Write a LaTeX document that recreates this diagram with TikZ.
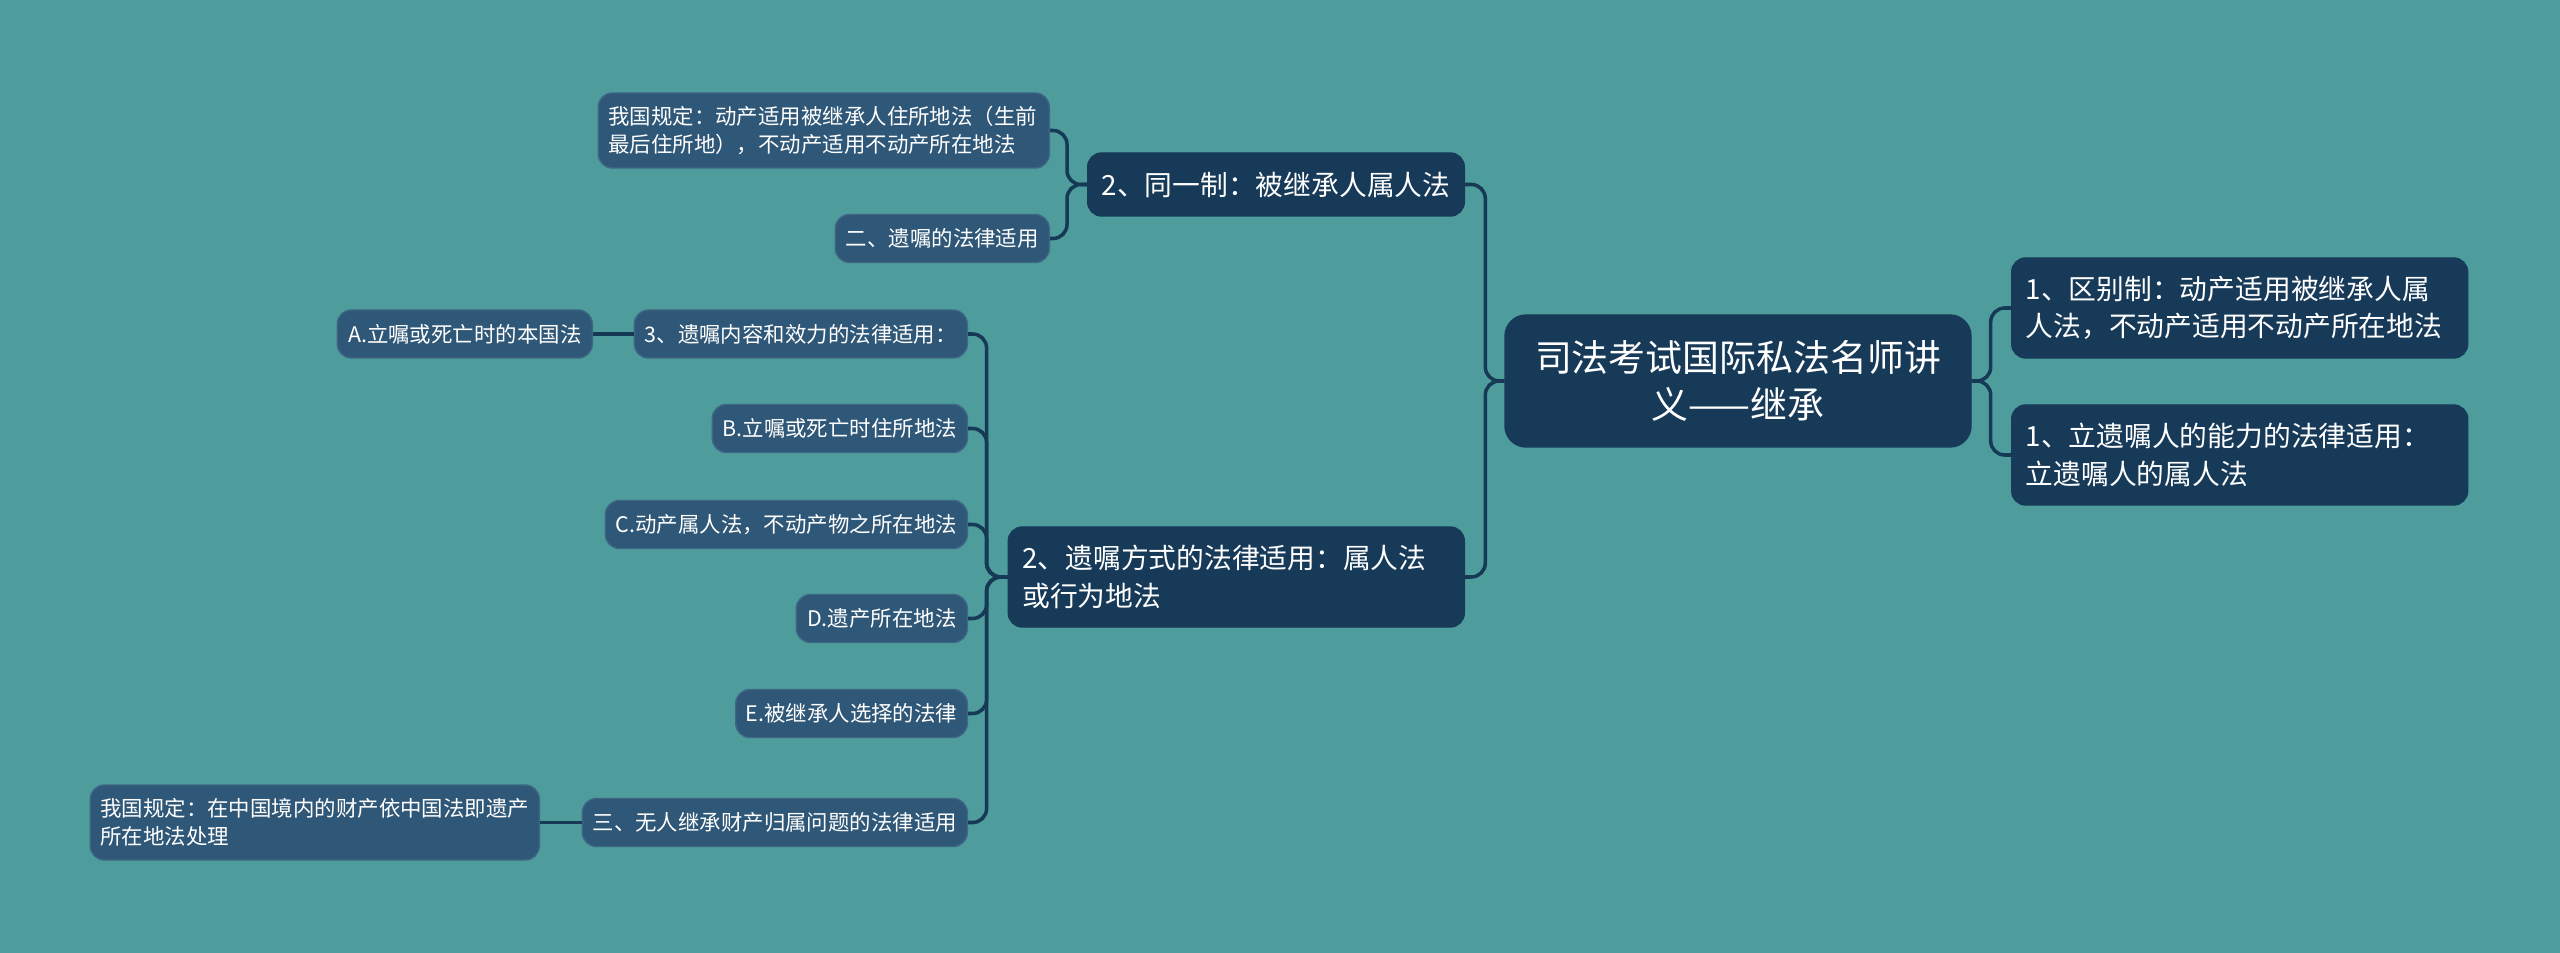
\documentclass[tikz,border=0pt]{standalone}
\usepackage{fontspec}
\newfontfamily\cjk{Noto Sans CJK SC}
\usetikzlibrary{positioning}
\definecolor{mapTeal}{HTML}{4E9C9C}
\definecolor{mapNavy}{HTML}{173A59}
\definecolor{mapSlate}{HTML}{2F5777}
\definecolor{mapSlateEdge}{HTML}{3D6785}
\definecolor{mapLine}{HTML}{163956}

\begin{document}
\begin{tikzpicture}[
    rootNode/.style={rectangle, rounded corners=6pt, fill=mapNavy, draw=mapNavy, text=white, align=center, font=\cjk\fontsize{10.5}{13.5}\selectfont, minimum width=4.66cm, minimum height=1.32cm},
    mainNode/.style={rectangle, rounded corners=4pt, fill=mapNavy, draw=mapNavy, text=white, align=left, font=\cjk\fontsize{7.9}{10.7}\selectfont, inner xsep=0.14cm},
    subNode/.style={rectangle, rounded corners=4pt, fill=mapSlate, draw=mapSlateEdge, line width=0.4pt, text=white, align=left, font=\cjk\fontsize{6.1}{7.9}\selectfont, inner xsep=0.1cm, minimum height=0.48cm},
    link/.style={draw=mapLine, line width=1pt, rounded corners=0.14cm},
]
\useasboundingbox (0,0) rectangle (25.6,-9.53);
\fill[mapTeal] (0,0) rectangle (25.6,-9.53);

\node[rootNode] (root) at (17.38,-3.81) {司法考试国际私法名师讲\\义——继承};

\node[mainNode, anchor=west, minimum width=4.56cm, minimum height=1cm, text width=4.28cm] (distinct) at (20.11,-3.08) {1、区别制：动产适用被继承人属\\人法，不动产适用不动产所在地法};
\node[mainNode, anchor=west, minimum width=4.56cm, minimum height=1cm, text width=4.28cm] (capacity) at (20.11,-4.55) {1、立遗嘱人的能力的法律适用：\\立遗嘱人的属人法};

\node[mainNode, anchor=east, minimum width=3.74cm, minimum height=0.63cm] (unified) at (14.65,-1.845) {2、同一制：被继承人属人法};
\node[mainNode, anchor=east, minimum width=4.56cm, minimum height=1cm, text width=4.28cm] (form) at (14.65,-5.77) {2、遗嘱方式的法律适用：属人法\\或行为地法};

\node[subNode, anchor=east, minimum width=4.51cm, minimum height=0.75cm, text width=4.31cm] (ruleMov) at (10.50,-1.305) {我国规定：动产适用被继承人住所地法（生前\\最后住所地），不动产适用不动产所在地法};
\node[subNode, anchor=east, minimum width=2.14cm] (willLaw) at (10.50,-2.385) {二、遗嘱的法律适用};

\node[subNode, anchor=east, minimum width=3.33cm] (content) at (9.68,-3.34) {3、遗嘱内容和效力的法律适用：};
\node[subNode, anchor=east, minimum width=2.55cm] (optB) at (9.68,-4.285) {B.立嘱或死亡时住所地法};
\node[subNode, anchor=east, minimum width=3.62cm] (optC) at (9.68,-5.245) {C.动产属人法，不动产物之所在地法};
\node[subNode, anchor=east, minimum width=1.71cm] (optD) at (9.68,-6.185) {D.遗产所在地法};
\node[subNode, anchor=east, minimum width=2.30cm] (optE) at (9.68,-7.135) {E.被继承人选择的法律};
\node[subNode, anchor=east, minimum width=3.85cm] (heirless) at (9.68,-8.225) {三、无人继承财产归属问题的法律适用};

\node[subNode, anchor=east, minimum width=2.55cm] (optA) at (5.93,-3.34) {A.立嘱或死亡时的本国法};
\node[subNode, anchor=east, minimum width=4.49cm, minimum height=0.75cm, text width=4.29cm] (ruleChina) at (5.40,-8.225) {我国规定：在中国境内的财产依中国法即遗产\\所在地法处理};

\draw[link] (root.east) -- ++(0.19,0) |- (distinct.west);
\draw[link] (root.east) -- ++(0.19,0) |- (capacity.west);
\draw[link] (root.west) -- ++(-0.19,0) |- (unified.east);
\draw[link] (root.west) -- ++(-0.19,0) |- (form.east);

\draw[link] (unified.west) -- ++(-0.2,0) |- (ruleMov.east);
\draw[link] (unified.west) -- ++(-0.2,0) |- (willLaw.east);

\foreach \kid in {content, optB, optC, optD, optE, heirless}
    \draw[link] (form.west) -- ++(-0.21,0) |- (\kid.east);

\draw[link] (content.west) -- (optA.east);
\draw[link] (heirless.west) -- (ruleChina.east);
\end{tikzpicture}
\end{document}
